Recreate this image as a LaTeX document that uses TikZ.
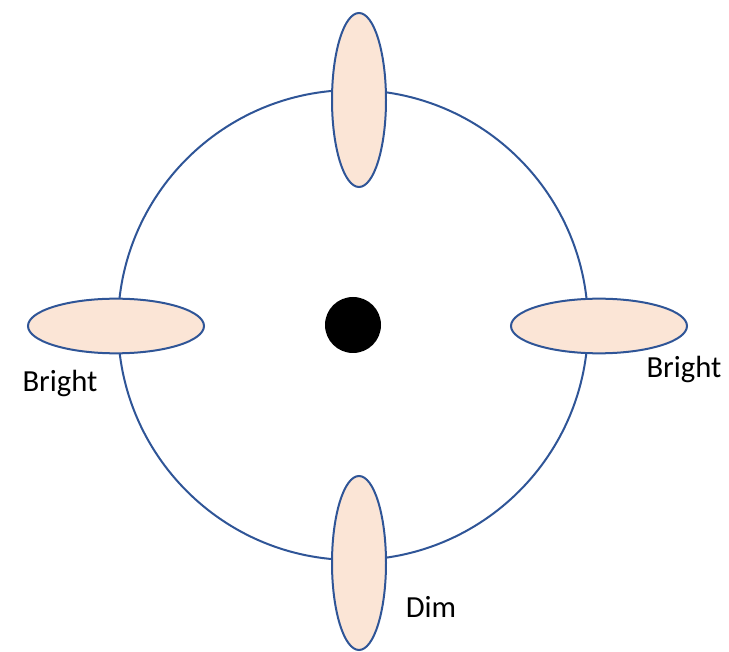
\documentclass[tikz,border=0pt]{standalone}
\usepackage{fontspec}
\setmainfont{Carlito}
\usepackage{tikz}
\usetikzlibrary{shapes.geometric, positioning}
\definecolor{ringblue}{HTML}{2F5597}
\definecolor{lobefill}{HTML}{FBE5D6}
\tikzset{
    ring/.style={circle, draw=ringblue, line width=1.5pt, inner sep=0pt, minimum size=352.5pt},
    lobe/.style={ellipse, draw=ringblue, line width=1.5pt, fill=lobefill, inner sep=0pt},
    vlobe/.style={lobe, minimum width=40.5pt, minimum height=130.5pt},
    hlobe/.style={lobe, minimum width=132pt, minimum height=41pt},
    hole/.style={circle, fill=black, inner sep=0pt, minimum size=42pt},
    lbl/.style={font=\fontsize{23}{28}\selectfont, inner sep=0pt}
}
\begin{document}
\begin{tikzpicture}[x=0.75pt, y=-0.75pt]
        \useasboundingbox (0,0) rectangle (729,652);
        % ring and lobes
        \node[ring] (ring) at (353,325) {};
        \node[vlobe] (top) at (359,100) {};
        \node[vlobe] (bottom) at (359,563) {};
        \node[hlobe] (left) at (116,326) {};
        \node[hlobe] (right) at (599,326) {};
        \node[hole] (star) at (353,325) {};
        % labels
        \node[lbl] (leftlbl) at (60,383) {Bright};
        \node[lbl] (rightlbl) at (684,369) {Bright};
        \node[lbl] (bottomlbl) at (431,607) {Dim};
      \end{tikzpicture}
\end{document}
